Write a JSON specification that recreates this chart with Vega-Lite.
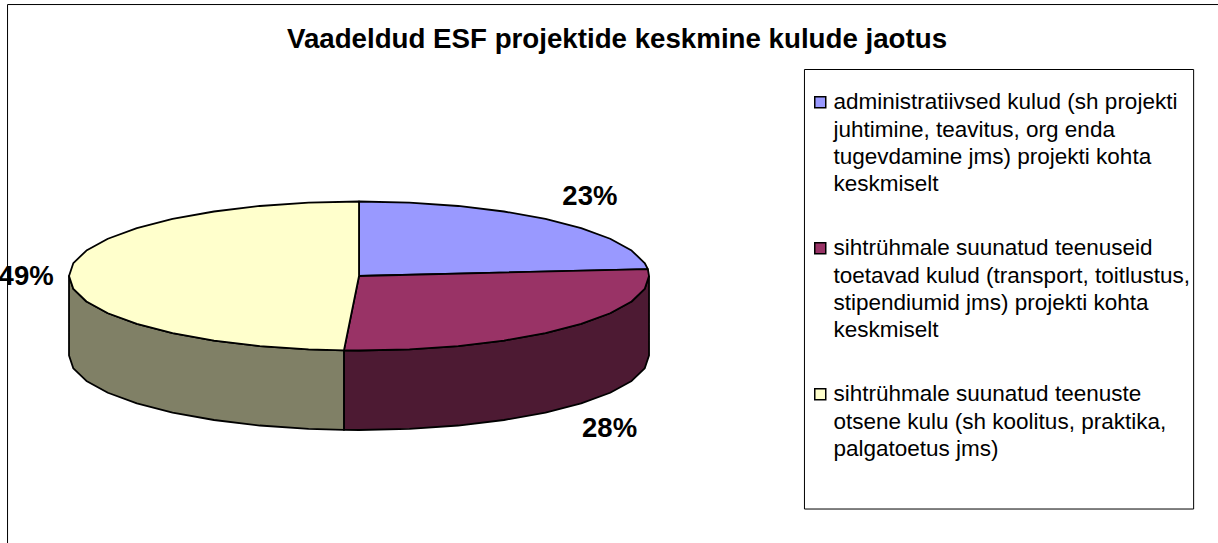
{"$schema":"https://vega.github.io/schema/vega-lite/v6.json","width":1218,"height":543,"padding":0,"autosize":{"type":"none"},"background":"white","view":{"stroke":null},"config":{"font":"Liberation Sans"},
"title":{"text":"Vaadeldud ESF projektide keskmine kulude jaotus","font":"Liberation Sans","fontSize":27.7,"fontWeight":"bold","color":"#000","anchor":"middle","frame":"group","dx":8,"offset":-76,"baseline":"alphabetic"},
"datasets":{
"top":[
{"slice":"a","o":0,"x":0,"y":0},{"slice":"a","o":1,"x":0,"y":-1},{"slice":"a","o":2,"x":0.174,"y":-0.985},{"slice":"a","o":3,"x":0.342,"y":-0.94},{"slice":"a","o":4,"x":0.5,"y":-0.866},{"slice":"a","o":5,"x":0.643,"y":-0.766},{"slice":"a","o":6,"x":0.766,"y":-0.643},{"slice":"a","o":7,"x":0.866,"y":-0.5},{"slice":"a","o":8,"x":0.94,"y":-0.342},{"slice":"a","o":9,"x":0.985,"y":-0.174},{"slice":"a","o":10,"x":0.996,"y":-0.093},{"slice":"a","o":11,"x":0,"y":0},
{"slice":"b","o":0,"x":0,"y":0},{"slice":"b","o":1,"x":0.996,"y":-0.093},{"slice":"b","o":2,"x":1,"y":0},{"slice":"b","o":3,"x":0.985,"y":0.174},{"slice":"b","o":4,"x":0.94,"y":0.342},{"slice":"b","o":5,"x":0.866,"y":0.5},{"slice":"b","o":6,"x":0.766,"y":0.643},{"slice":"b","o":7,"x":0.643,"y":0.766},{"slice":"b","o":8,"x":0.5,"y":0.866},{"slice":"b","o":9,"x":0.342,"y":0.94},{"slice":"b","o":10,"x":0.174,"y":0.985},{"slice":"b","o":11,"x":0,"y":1},{"slice":"b","o":12,"x":-0.052,"y":0.999},{"slice":"b","o":13,"x":0,"y":0},
{"slice":"c","o":0,"x":0,"y":0},{"slice":"c","o":1,"x":-0.052,"y":0.999},{"slice":"c","o":2,"x":-0.174,"y":0.985},{"slice":"c","o":3,"x":-0.342,"y":0.94},{"slice":"c","o":4,"x":-0.5,"y":0.866},{"slice":"c","o":5,"x":-0.643,"y":0.766},{"slice":"c","o":6,"x":-0.766,"y":0.643},{"slice":"c","o":7,"x":-0.866,"y":0.5},{"slice":"c","o":8,"x":-0.94,"y":0.342},{"slice":"c","o":9,"x":-0.985,"y":0.174},{"slice":"c","o":10,"x":-1,"y":0},{"slice":"c","o":11,"x":-0.985,"y":-0.174},{"slice":"c","o":12,"x":-0.94,"y":-0.342},{"slice":"c","o":13,"x":-0.866,"y":-0.5},{"slice":"c","o":14,"x":-0.766,"y":-0.643},{"slice":"c","o":15,"x":-0.643,"y":-0.766},{"slice":"c","o":16,"x":-0.5,"y":-0.866},{"slice":"c","o":17,"x":-0.342,"y":-0.94},{"slice":"c","o":18,"x":-0.174,"y":-0.985},{"slice":"c","o":19,"x":0,"y":-1},{"slice":"c","o":20,"x":0,"y":0}],
"side":[
{"slice":"b","o":0,"x":1,"y":0},{"slice":"b","o":1,"x":0.985,"y":0.174},{"slice":"b","o":2,"x":0.94,"y":0.342},{"slice":"b","o":3,"x":0.866,"y":0.5},{"slice":"b","o":4,"x":0.766,"y":0.643},{"slice":"b","o":5,"x":0.643,"y":0.766},{"slice":"b","o":6,"x":0.5,"y":0.866},{"slice":"b","o":7,"x":0.342,"y":0.94},{"slice":"b","o":8,"x":0.174,"y":0.985},{"slice":"b","o":9,"x":0,"y":1},{"slice":"b","o":10,"x":-0.052,"y":0.999},{"slice":"b","o":11,"x":-0.052,"y":2.066},{"slice":"b","o":12,"x":0,"y":2.067},{"slice":"b","o":13,"x":0.174,"y":2.052},{"slice":"b","o":14,"x":0.342,"y":2.007},{"slice":"b","o":15,"x":0.5,"y":1.933},{"slice":"b","o":16,"x":0.643,"y":1.833},{"slice":"b","o":17,"x":0.766,"y":1.71},{"slice":"b","o":18,"x":0.866,"y":1.567},{"slice":"b","o":19,"x":0.94,"y":1.409},{"slice":"b","o":20,"x":0.985,"y":1.241},{"slice":"b","o":21,"x":1,"y":1.067},{"slice":"b","o":22,"x":1,"y":0},
{"slice":"c","o":0,"x":-0.052,"y":0.999},{"slice":"c","o":1,"x":-0.174,"y":0.985},{"slice":"c","o":2,"x":-0.342,"y":0.94},{"slice":"c","o":3,"x":-0.5,"y":0.866},{"slice":"c","o":4,"x":-0.643,"y":0.766},{"slice":"c","o":5,"x":-0.766,"y":0.643},{"slice":"c","o":6,"x":-0.866,"y":0.5},{"slice":"c","o":7,"x":-0.94,"y":0.342},{"slice":"c","o":8,"x":-0.985,"y":0.174},{"slice":"c","o":9,"x":-1,"y":0},{"slice":"c","o":10,"x":-1,"y":1.067},{"slice":"c","o":11,"x":-0.985,"y":1.241},{"slice":"c","o":12,"x":-0.94,"y":1.409},{"slice":"c","o":13,"x":-0.866,"y":1.567},{"slice":"c","o":14,"x":-0.766,"y":1.71},{"slice":"c","o":15,"x":-0.643,"y":1.833},{"slice":"c","o":16,"x":-0.5,"y":1.933},{"slice":"c","o":17,"x":-0.342,"y":2.007},{"slice":"c","o":18,"x":-0.174,"y":2.052},{"slice":"c","o":19,"x":-0.052,"y":2.066},{"slice":"c","o":20,"x":-0.052,"y":0.999}],
"labels":[{"label":"23%","x":0.796,"y":-1.06},{"label":"28%","x":0.864,"y":2.054},{"label":"49%","x":-1.148,"y":0.013}]
},
"layer":[
{"data":{"values":[{"x":-1.212,"x2":2.962,"y":-3.644,"y2":-3.644},{"x":-1.212,"x2":-1.212,"y":-3.644,"y2":3.584}]},"mark":{"type":"rule","stroke":"#000","strokeWidth":1},"encoding":{"x":{"field":"x","type":"quantitative","scale":{"domain":[-1.238,2.962],"nice":false,"zero":false},"axis":null},"y":{"field":"y","type":"quantitative","scale":{"domain":[3.584,-3.705],"nice":false,"zero":false},"axis":null},"x2":{"field":"x2"},"y2":{"field":"y2"}}},
{"data":{"values":[{"x":1.536,"x2":2.878,"y":-2.772,"y2":3.128}]},"mark":{"type":"rect","fill":"white","stroke":"#000","strokeWidth":1},"encoding":{"x":{"field":"x","type":"quantitative","axis":null},"y":{"field":"y","type":"quantitative","axis":null},"x2":{"field":"x2"},"y2":{"field":"y2"}}},
{"data":{"name":"side"},"mark":{"type":"line","stroke":"#000","strokeWidth":1.8,"strokeJoin":"round"},"encoding":{"x":{"field":"x","type":"quantitative","axis":null},"y":{"field":"y","type":"quantitative","axis":null},"order":{"field":"o"},"detail":{"field":"slice"},"fill":{"field":"slice","type":"nominal","scale":{"domain":["b","c"],"range":["#4D1A33","#808066"]},"legend":null}}},
{"data":{"name":"top"},"mark":{"type":"line","stroke":"#000","strokeWidth":1.8,"strokeJoin":"round"},"encoding":{"x":{"field":"x","type":"quantitative","axis":null},"y":{"field":"y","type":"quantitative","axis":null},"order":{"field":"o"},"detail":{"field":"slice"},"fill":{"field":"slice","type":"nominal","scale":{"domain":["a","b","c"],"range":["#9999FF","#993366","#FFFFCC"]},"legend":{"title":null,"orient":"none","legendX":809,"legendY":91,"padding":0,"symbolType":"square","symbolSize":121,"symbolStrokeColor":"#000","symbolStrokeWidth":1.5,"symbolOpacity":1,"labelFont":"Liberation Sans","labelFontSize":22.5,"labelColor":"#000","labelLimit":0,"labelOffset":2,"labelBaseline":"middle","symbolBaseline":"top","rowPadding":41,"labelExpr":"datum.label==='a'?['administratiivsed kulud (sh projekti','juhtimine, teavitus, org enda','tugevdamine jms) projekti kohta','keskmiselt']:datum.label==='b'?['sihtrühmale suunatud teenuseid','toetavad kulud (transport, toitlustus,','stipendiumid jms) projekti kohta','keskmiselt']:['sihtrühmale suunatud teenuste','otsene kulu (sh koolitus, praktika,','palgatoetus jms)']","encoding":{"labels":{"lineHeight":{"value":27.3}}}}}}},
{"data":{"name":"labels"},"mark":{"type":"text","font":"Liberation Sans","fontSize":27.5,"fontWeight":"bold","fill":"#000","align":"center","baseline":"middle"},"encoding":{"x":{"field":"x","type":"quantitative","axis":null},"y":{"field":"y","type":"quantitative","axis":null},"text":{"field":"label"}}}
],
"resolve":{"scale":{"fill":"independent"}}}
